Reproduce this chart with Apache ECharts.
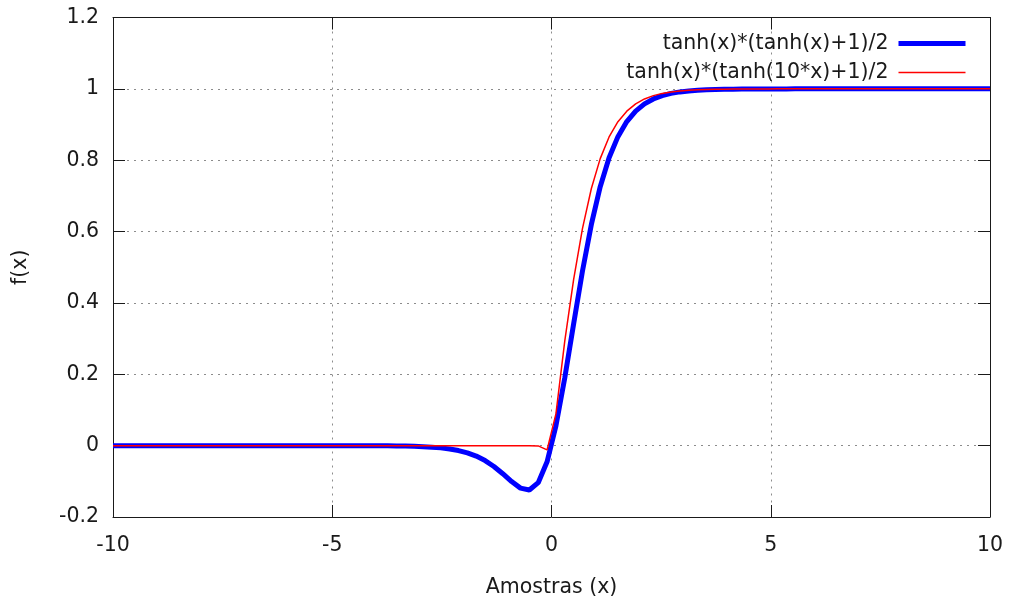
<!DOCTYPE html>
<html>
<head>
<meta charset="utf-8">
<script src="https://cdn.jsdelivr.net/npm/echarts@6/dist/echarts.min.js"></script>
<style>
html,body{margin:0;padding:0;background:#fff;}
#chart{width:1009px;height:603px;}
</style>
</head>
<body>
<div id="chart"></div>
<script>
// Sample positions (100 samples over [-10, 10])
var xs = [
 -10.000,-9.798,-9.596,-9.394,-9.192,-8.990,-8.788,-8.586,-8.384,-8.182,
 -7.980,-7.778,-7.576,-7.374,-7.172,-6.970,-6.768,-6.566,-6.364,-6.162,
 -5.960,-5.758,-5.556,-5.354,-5.152,-4.949,-4.747,-4.545,-4.343,-4.141,
 -3.939,-3.737,-3.535,-3.333,-3.131,-2.929,-2.727,-2.525,-2.323,-2.121,
 -1.919,-1.717,-1.515,-1.313,-1.111,-0.909,-0.707,-0.505,-0.303,-0.101,
 0.101,0.303,0.505,0.707,0.909,1.111,1.313,1.515,1.717,1.919,
 2.121,2.323,2.525,2.727,2.929,3.131,3.333,3.535,3.737,3.939,
 4.141,4.343,4.545,4.747,4.949,5.152,5.354,5.556,5.758,5.960,
 6.162,6.364,6.566,6.768,6.970,7.172,7.374,7.576,7.778,7.980,
 8.182,8.384,8.586,8.788,8.990,9.192,9.394,9.596,9.798,10.000
];
// tanh(x)*(tanh(x)+1)/2
var blueVals = [
 0,0,0,0,0,0,0,0,0,0,
 0,0,0,0,0,0,0,0,0,0,
 0,0,0,0,0,-0.00005,-0.00008,-0.00011,-0.00017,-0.00025,
 -0.00038,-0.00057,-0.00085,-0.00127,-0.0019,-0.00283,-0.00422,-0.00628,-0.00932,-0.01377,
 -0.02019,-0.02929,-0.04183,-0.05836,-0.07865,-0.10064,-0.11908,-0.12443,-0.1038,-0.04527,
 0.0554,0.19031,0.34168,0.48979,0.62008,0.72581,0.80671,0.86602,0.90823,0.93766,
 0.95789,0.97167,0.98099,0.98726,0.99147,0.99429,0.99619,0.99745,0.9983,0.99886,
 0.99924,0.99949,0.99966,0.99977,0.99985,0.9999,0.99993,1,1,1,
 1,1,1,1,1,1,1,1,1,1,
 1,1,1,1,1,1,1,1,1,1
];
// tanh(x)*(tanh(10*x)+1)/2
var redVals = [
 0,0,0,0,0,0,0,0,0,0,
 0,0,0,0,0,0,0,0,0,0,
 0,0,0,0,0,0,0,0,0,0,
 0,0,0,0,0,0,0,0,0,0,
 0,0,0,0,0,0,0,0,-0.0007,-0.0118,
 0.0889,0.2934,0.4661,0.6089,0.7207,0.8045,0.8651,0.9079,0.9375,0.9579,
 0.9717,0.981,0.9873,0.9915,0.9943,0.9962,0.9975,0.9983,0.9989,0.9992,
 0.9995,0.9997,0.9998,0.9998,0.9999,1,1,1,1,1,
 1,1,1,1,1,1,1,1,1,1,
 1,1,1,1,1,1,1,1,1,1
];
var seriesNames = ['tanh(x)*(tanh(x)+1)/2', 'tanh(x)*(tanh(10*x)+1)/2'];
var xLabel = 'Amostras (x)';
var yLabel = 'f(x)';

function pairs(v){ return xs.map(function(x,i){ return [x, v[i]]; }); }

var FONT = 'DejaVu Sans';
var FS = 20.5;
var TXT = '#1a1a1a';
var BLUE_W = 5, RED_W = 1.5;
var chart = echarts.init(document.getElementById('chart'), null, {renderer:'canvas'});

var gridLine = {show:true, lineStyle:{color:'#8c8c8c', width:1, type:[2,5]}};
var axisLine = {show:true, onZero:false, lineStyle:{color:'#1a1a1a', width:1}};
var tick = {show:true, inside:true, length:12, lineStyle:{color:'#1a1a1a', width:1}};

chart.setOption({
  animation:false,
  backgroundColor:'#fff',
  textStyle:{fontFamily:FONT},
  grid:{left:113, right:19, top:17.5, bottom:82.5, containLabel:false},
  legend:{
    orient:'vertical', align:'right', right:36, top:28,
    itemWidth:67, itemHeight:20, itemGap:8,
    textStyle:{fontFamily:FONT, fontSize:FS, color:TXT, padding:[0,5,0,0]},
    data:[
      {name:seriesNames[0], itemStyle:{opacity:0, borderWidth:0}, lineStyle:{width:BLUE_W, color:'#0000ff'}},
      {name:seriesNames[1], itemStyle:{opacity:0, borderWidth:0}, lineStyle:{width:RED_W, color:'#ff0000'}}
    ]
  },
  xAxis:[{
    type:'value', min:-10, max:10, interval:5, position:'bottom',
    name:xLabel, nameLocation:'middle', nameGap:60,
    nameTextStyle:{fontFamily:FONT, fontSize:FS, color:TXT},
    axisLine:axisLine, axisTick:tick,
    axisLabel:{fontFamily:FONT, fontSize:FS, color:TXT, margin:18},
    splitLine:gridLine
  },{
    type:'value', min:-10, max:10, interval:5, position:'top',
    axisLine:axisLine, axisTick:tick, axisLabel:{show:false}, splitLine:{show:false}
  }],
  yAxis:[{
    type:'value', min:-0.2, max:1.2, interval:0.2, position:'left',
    name:yLabel, nameLocation:'middle', nameGap:82, nameRotate:90,
    nameTextStyle:{fontFamily:FONT, fontSize:FS, color:TXT},
    axisLine:axisLine, axisTick:tick,
    axisLabel:{fontFamily:FONT, fontSize:FS, color:TXT, margin:14,
      formatter:function(v){ return String(parseFloat(v.toFixed(1))); }},
    splitLine:gridLine
  },{
    type:'value', min:-0.2, max:1.2, interval:0.2, position:'right',
    axisLine:axisLine, axisTick:tick, axisLabel:{show:false}, splitLine:{show:false}
  }],
  series:[{
    name:seriesNames[0], type:'line', data:pairs(blueVals),
    showSymbol:false, symbol:'none', smooth:false, clip:true,
    lineStyle:{color:'#0000ff', width:BLUE_W},
    itemStyle:{color:'#0000ff'}
  },{
    name:seriesNames[1], type:'line', data:pairs(redVals),
    showSymbol:false, symbol:'none', smooth:false, clip:true,
    lineStyle:{color:'#ff0000', width:RED_W},
    itemStyle:{color:'#ff0000'}
  }]
});
</script>
</body>
</html>
